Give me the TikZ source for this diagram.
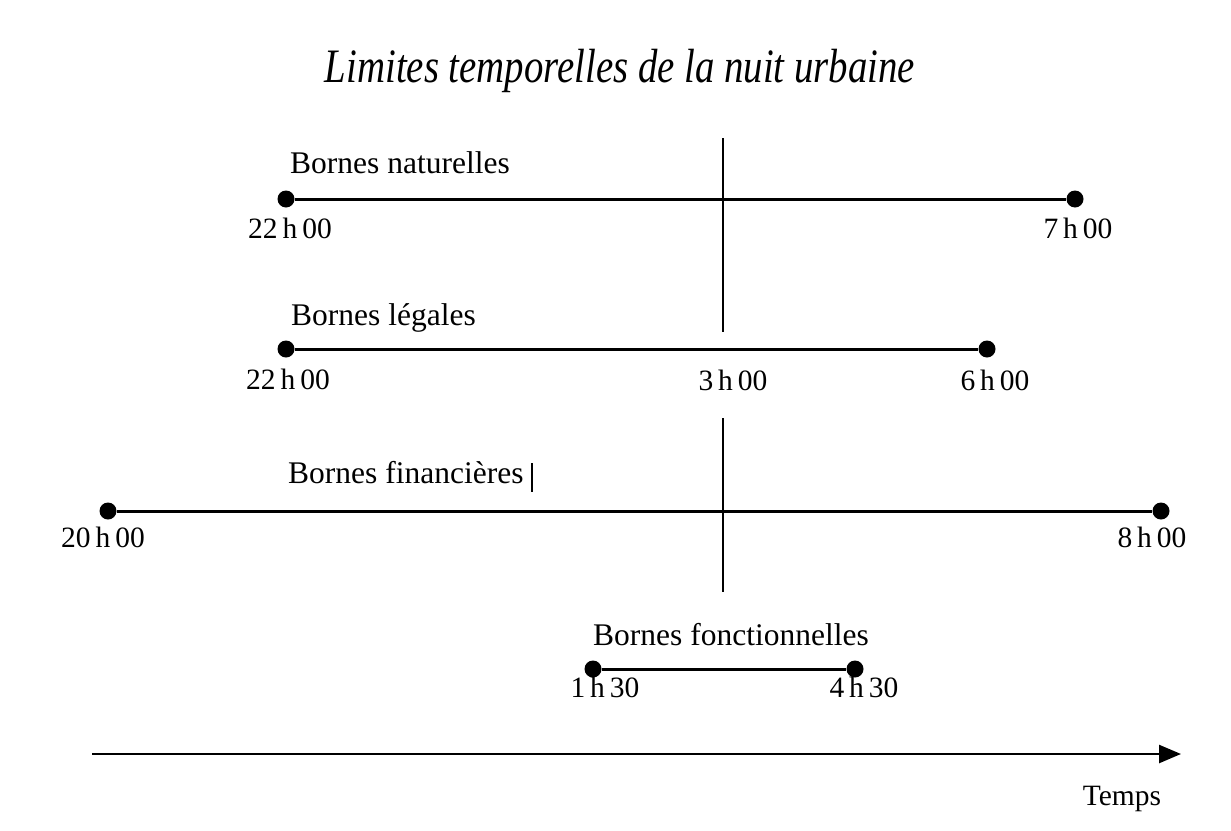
\documentclass[tikz,border=0pt]{standalone}
\usepackage{fontspec}
\usepackage{graphicx}
\setmainfont{Liberation Serif}
\usetikzlibrary{arrows.meta}
\begin{document}
\begin{tikzpicture}[x=1pt,y=-1pt,
  seg/.style={line width=3pt},
  vline/.style={line width=2pt},
  dotpt/.style={circle,fill=black,inner sep=0pt,minimum size=17pt},
  lab/.style={font=\fontsize{31.5}{36}\selectfont,anchor=base west,inner sep=0pt},
  num/.style={font=\fontsize{29.5}{34}\selectfont,anchor=base,inner sep=0pt},
  ttl/.style={font=\fontsize{40}{48}\selectfont\itshape,anchor=base,inner sep=0pt}]
\useasboundingbox (0,0) rectangle (1231,830);
% title
\node[ttl] (title) at (620,82) {\scalebox{0.97}[1.2]{Limites temporelles de la nuit urbaine}};
% vertical reference line
\coordinate (v1) at (723,138);
\coordinate (v2) at (723,332);
\coordinate (v3) at (723,418);
\coordinate (v4) at (723,592);
\draw[vline] (v1) -- (v2);
\draw[vline] (v3) -- (v4);
% row 1
\node[dotpt] (a1) at (286,199) {};
\node[dotpt] (a2) at (1075,199) {};
\draw[seg] (a1) -- (a2);
\node[lab] (la) at (290,173) {Bornes naturelles};
\node[num] (na1) at (290,238) {22\,h\,00};
\node[num] (na2) at (1078,238) {7\,h\,00};
% row 2
\node[dotpt] (b1) at (286,349) {};
\node[dotpt] (b2) at (987,349) {};
\draw[seg] (b1) -- (b2);
\node[lab] (lb) at (291,325) {Bornes légales};
\node[num] (nb1) at (288,389) {22\,h\,00};
\node[num] (nb3) at (733,390) {3\,h\,00};
\node[num] (nb2) at (995,390) {6\,h\,00};
% row 3
\node[dotpt] (c1) at (108,511) {};
\node[dotpt] (c2) at (1161,511) {};
\draw[seg] (c1) -- (c2);
\node[lab] (lc) at (288,483) {Bornes financières};
\coordinate (cur1) at (532,463);
\coordinate (cur2) at (532,492);
\draw[line width=1.5pt] (cur1) -- (cur2);
\node[num] (nc1) at (103,547) {20\,h\,00};
\node[num] (nc2) at (1152,547) {8\,h\,00};
% row 4
\node[dotpt] (d1) at (593,669) {};
\node[dotpt] (d2) at (855,669) {};
\draw[seg] (d1) -- (d2);
\node[lab] (ld) at (593,645) {Bornes fonctionnelles};
\node[num] (nd1) at (605,697) {1\,h\,30};
\node[num] (nd2) at (864,697) {4\,h\,30};
% time axis
\coordinate (t0) at (92,754);
\coordinate (t1) at (1181,754);
\draw[line width=2.5pt,-{Triangle[length=22pt,width=18pt]}] (t0) -- (t1);
\node[num] (temps) at (1122,805) {Temps};
\end{tikzpicture}
\end{document}
